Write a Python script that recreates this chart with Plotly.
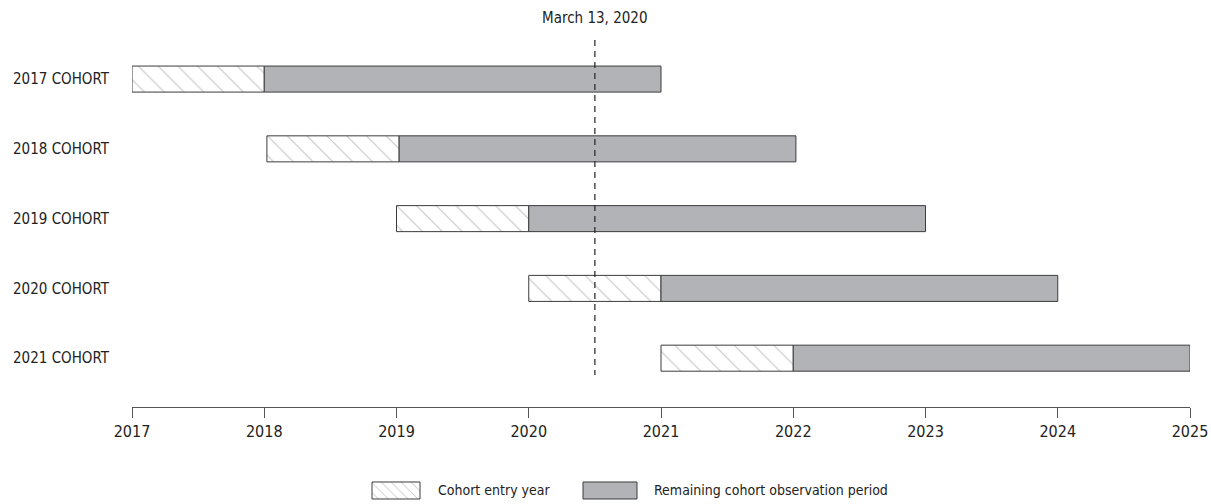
import plotly.graph_objects as go

cohorts = ["2017 COHORT", "2018 COHORT", "2019 COHORT", "2020 COHORT", "2021 COHORT"]
entry_start = [2017, 2018.02, 2019, 2020, 2021]
entry_end = [2018, 2019.02, 2020, 2021, 2022]
obs_end = [2021, 2022.02, 2023, 2024, 2025]
x_ticks = [2017, 2018, 2019, 2020, 2021, 2022, 2023, 2024, 2025]
event_x = 2020.5
event_label = "March 13, 2020"
legend_labels = ["Cohort entry year", "Remaining cohort observation period"]

FONT = "Liberation Sans Narrow, DejaVu Sans Condensed, Roboto Condensed, Arial Narrow, sans-serif"
GRAY = "#b2b3b7"
EDGE = "#3c3c3c"
HATCH = "#8c8c8c"
TXT = "#222222"

ypos = list(range(len(cohorts)))

fig = go.Figure()

fig.add_trace(go.Bar(
    orientation="h", y=ypos,
    x=[e - s for s, e in zip(entry_start, entry_end)], base=entry_start,
    width=0.373,
    marker=dict(color="white", line=dict(color=EDGE, width=1),
                pattern=dict(shape="\\", fgcolor=HATCH, bgcolor="white", size=14, solidity=0.08)),
    name=legend_labels[0], showlegend=False,
))
fig.add_trace(go.Bar(
    orientation="h", y=ypos,
    x=[e - s for s, e in zip(entry_end, obs_end)], base=entry_end,
    width=0.373,
    marker=dict(color=GRAY, line=dict(color=EDGE, width=1)),
    name=legend_labels[1], showlegend=False,
))

# event dashed line
fig.add_trace(go.Scatter(
    x=[event_x, event_x], y=[-0.56, 4.24], mode="lines",
    line=dict(color="#222", width=1.2, dash="6px,5px"),
    showlegend=False, hoverinfo="skip",
))

fig.add_annotation(x=event_x, xref="x", y=1.047, yref="paper", text=event_label,
                   showarrow=False, font=dict(family=FONT, size=15, color=TXT),
                   xanchor="center", yanchor="middle")

# legend keys on a dedicated small axis (pixel-like coordinates)
fig.add_trace(go.Bar(
    orientation="h", y=[0], x=[48], base=[372], width=1, xaxis="x2", yaxis="y2",
    marker=dict(color="white", line=dict(color=EDGE, width=1),
                pattern=dict(shape="\\", fgcolor=HATCH, bgcolor="white", size=7, solidity=0.14)),
    showlegend=False, hoverinfo="skip",
))
fig.add_trace(go.Bar(
    orientation="h", y=[0], x=[54], base=[583], width=1, xaxis="x2", yaxis="y2",
    marker=dict(color=GRAY, line=dict(color=EDGE, width=1)),
    showlegend=False, hoverinfo="skip",
))
fig.add_annotation(x=436, xref="x2", y=0, yref="y2", text=legend_labels[0], showarrow=False,
                   xanchor="left", yanchor="middle", font=dict(family=FONT, size=14, color=TXT))
fig.add_annotation(x=652, xref="x2", y=0, yref="y2", text=legend_labels[1], showarrow=False,
                   xanchor="left", yanchor="middle", font=dict(family=FONT, size=14, color=TXT))

fig.update_layout(
    width=1211, height=504,
    margin=dict(l=132, r=21, t=40, b=0),
    paper_bgcolor="white", plot_bgcolor="white",
    barmode="overlay",
    font=dict(family=FONT, size=15, color=TXT),
    xaxis=dict(range=[2017, 2025], tickvals=x_ticks, ticktext=[str(v) for v in x_ticks],
               showgrid=False, zeroline=False, showline=True, linecolor="#555", linewidth=1,
               ticks="outside", ticklen=10, tickcolor="#555", anchor="y",
               tickfont=dict(family=FONT, size=16, color=TXT)),
    yaxis=dict(range=[4.70, -0.56], domain=[0.209, 1], tickvals=ypos, ticktext=cohorts,
               showgrid=False, zeroline=False, showline=False, ticks="",
               ticklabelstandoff=22, tickfont=dict(family=FONT, size=15, color=TXT)),
    xaxis2=dict(range=[132, 1190], domain=[0, 1], visible=False, anchor="y2", fixedrange=True),
    yaxis2=dict(range=[-0.6, 0.6], domain=[0.0071, 0.0511], visible=False, anchor="x2", fixedrange=True),
    showlegend=False,
)

fig.write_html("out.html", config={"displayModeBar": False},
               post_script="document.body.style.margin='0';document.body.style.overflow='hidden';")
